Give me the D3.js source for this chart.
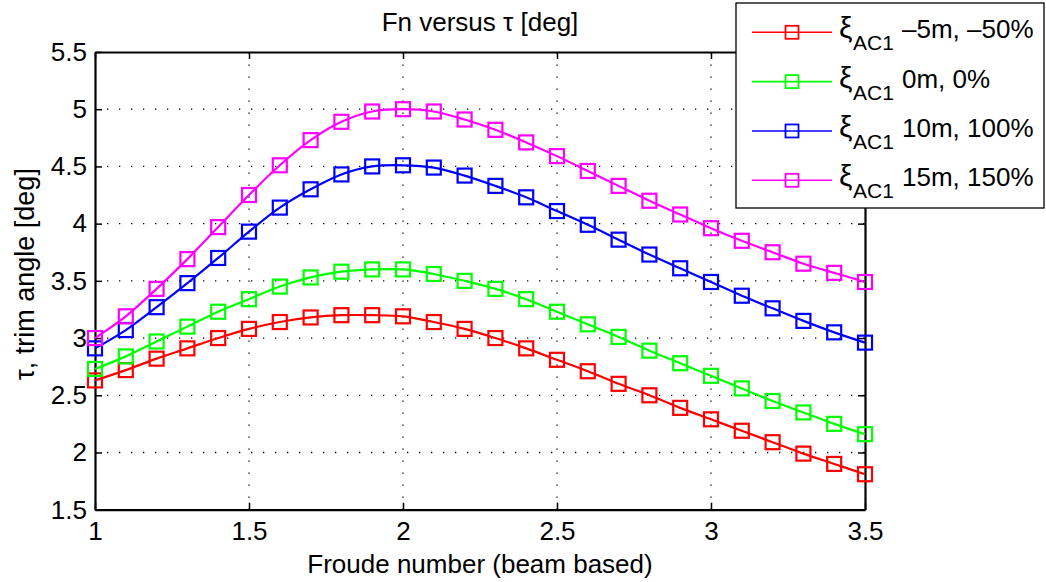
<!DOCTYPE html>
<html><head><meta charset="utf-8">
<script src="https://cdn.jsdelivr.net/npm/d3@7"></script>
<style>body{margin:0;background:#fff}svg{display:block}text{font-family:"Liberation Sans",Arial,sans-serif}</style>
</head><body><svg id="c" width="1046" height="582"></svg>
<script>
const fn = [1,1.1,1.2,1.3,1.4,1.5,1.6,1.7,1.8,1.9,2.0,2.1,2.2,2.3,2.4,2.5,2.6,2.7,2.8,2.9,3.0,3.1,3.2,3.3,3.4,3.5];
const redVals = [2.63,2.72,2.82,2.91,3.0,3.08,3.14,3.18,3.2,3.2,3.19,3.14,3.08,3.0,2.91,2.81,2.71,2.6,2.5,2.39,2.29,2.19,2.09,1.99,1.9,1.81];
const greenVals = [2.73,2.84,2.97,3.1,3.23,3.34,3.45,3.53,3.58,3.6,3.6,3.56,3.5,3.43,3.34,3.23,3.12,3.01,2.89,2.78,2.67,2.56,2.45,2.35,2.25,2.16];
const blueVals = [2.91,3.07,3.27,3.48,3.7,3.93,4.14,4.3,4.43,4.5,4.51,4.49,4.42,4.33,4.23,4.11,3.99,3.86,3.73,3.61,3.49,3.37,3.26,3.15,3.05,2.96];
const magentaVals = [3.0,3.19,3.43,3.69,3.97,4.25,4.51,4.73,4.89,4.98,5.0,4.98,4.91,4.82,4.71,4.59,4.46,4.33,4.2,4.08,3.96,3.85,3.75,3.65,3.57,3.49];
const seriesNames = ["–5m, –50%","0m, 0%","10m, 100%","15m, 150%"];
const seriesColors = ["#ff0000","#00ff00","#0000ff","#ff00ff"];
const xTicks = [1,1.5,2,2.5,3,3.5];
const yTicks = [1.5,2,2.5,3,3.5,4,4.5,5,5.5];
const series = [redVals,greenVals,blueVals,magentaVals];

const svg = d3.select("#c");
const L=95,R=865,T=52,B=509.7;
const FS=26;
const x = d3.scaleLinear().domain([1,3.5]).range([L,R]);
const y = d3.scaleLinear().domain([1.5,5.5]).range([B,T]);

// grid
const g = svg.append("g");
g.selectAll(".gx").data(xTicks.slice(1,-1)).join("line")
 .attr("x1",d=>x(d)).attr("x2",d=>x(d)).attr("y1",B).attr("y2",T)
 .attr("stroke","#000").attr("stroke-width",1.3).attr("stroke-dasharray","1.3,10.7");
g.selectAll(".gy").data(yTicks.slice(1,-1)).join("line")
 .attr("y1",d=>y(d)).attr("y2",d=>y(d)).attr("x1",L).attr("x2",R)
 .attr("stroke","#000").attr("stroke-width",1.3).attr("stroke-dasharray","1.3,10.7");

// axes with inner ticks
const ax = svg.append("g");
const axB = d3.axisBottom(x).tickValues(xTicks).tickFormat(d3.format("")).tickSizeInner(-7).tickSizeOuter(0).tickPadding(12);
const axT = d3.axisTop(x).tickValues(xTicks).tickFormat("").tickSizeInner(-7).tickSizeOuter(0);
const axL = d3.axisLeft(y).tickValues(yTicks).tickFormat(d3.format("")).tickSizeInner(-7).tickSizeOuter(0).tickPadding(8);
const axR = d3.axisRight(y).tickValues(yTicks).tickFormat("").tickSizeInner(-7).tickSizeOuter(0);
ax.append("g").attr("transform",`translate(0,${B})`).call(axB);
ax.append("g").attr("transform",`translate(0,${T})`).call(axT);
ax.append("g").attr("transform",`translate(${L},0)`).call(axL);
ax.append("g").attr("transform",`translate(${R},0)`).call(axR);
ax.selectAll(".domain").attr("stroke","#000").attr("stroke-width",2.2);
ax.selectAll(".tick line").attr("stroke","#000").attr("stroke-width",1.5);
ax.selectAll(".tick text").attr("font-size",FS).attr("fill","#000").attr("font-family","Liberation Sans, Arial, sans-serif");

// lines
const line = d3.line().x((d,i)=>x(fn[i])).y(d=>y(d)).curve(d3.curveCatmullRom);
const S=14;
series.forEach((vals,k)=>{
  svg.append("path").attr("d",line(vals)).attr("fill","none").attr("stroke",seriesColors[k]).attr("stroke-width",2.2);
  svg.append("g").selectAll("rect").data(vals).join("rect")
   .attr("x",(d,i)=>x(fn[i])-S/2).attr("y",d=>y(d)-S/2).attr("width",S).attr("height",S)
   .attr("fill","none").attr("stroke",seriesColors[k]).attr("stroke-width",2.2);
});

// title & labels
svg.append("text").attr("x",480).attr("y",31).attr("text-anchor","middle").attr("font-size",FS).text("Fn versus τ [deg]");
svg.append("text").attr("x",480).attr("y",573).attr("text-anchor","middle").attr("font-size",FS).text("Froude number (beam based)");
svg.append("text").attr("transform","translate(34,274) rotate(-90)").attr("text-anchor","middle").attr("font-size",27).text("τ, trim angle [deg]");

// legend
const lg = svg.append("g");
lg.append("rect").attr("x",736).attr("y",3).attr("width",308).attr("height",205).attr("fill","#fff").attr("stroke","#000").attr("stroke-width",1.3);
const ly = d3.scaleLinear().domain([0,3]).range([32.3,180.3]);
seriesNames.forEach((nm,k)=>{
  const yy = ly(k);
  lg.append("line").attr("x1",752).attr("x2",832).attr("y1",yy).attr("y2",yy).attr("stroke",seriesColors[k]).attr("stroke-width",1.6);
  lg.append("rect").attr("x",792-6.5).attr("y",yy-6.5).attr("width",13).attr("height",13).attr("fill","none").attr("stroke",seriesColors[k]).attr("stroke-width",1.8);
  const t = lg.append("text").attr("y",yy+6).attr("font-size",FS);
  t.append("tspan").attr("x",839).attr("font-size",30).text("ξ");
  t.append("tspan").attr("x",853).attr("font-size",21).attr("dy",12).text("AC1");
  t.append("tspan").attr("x",902).attr("dy",-12).text(nm);
});
</script></body></html>
